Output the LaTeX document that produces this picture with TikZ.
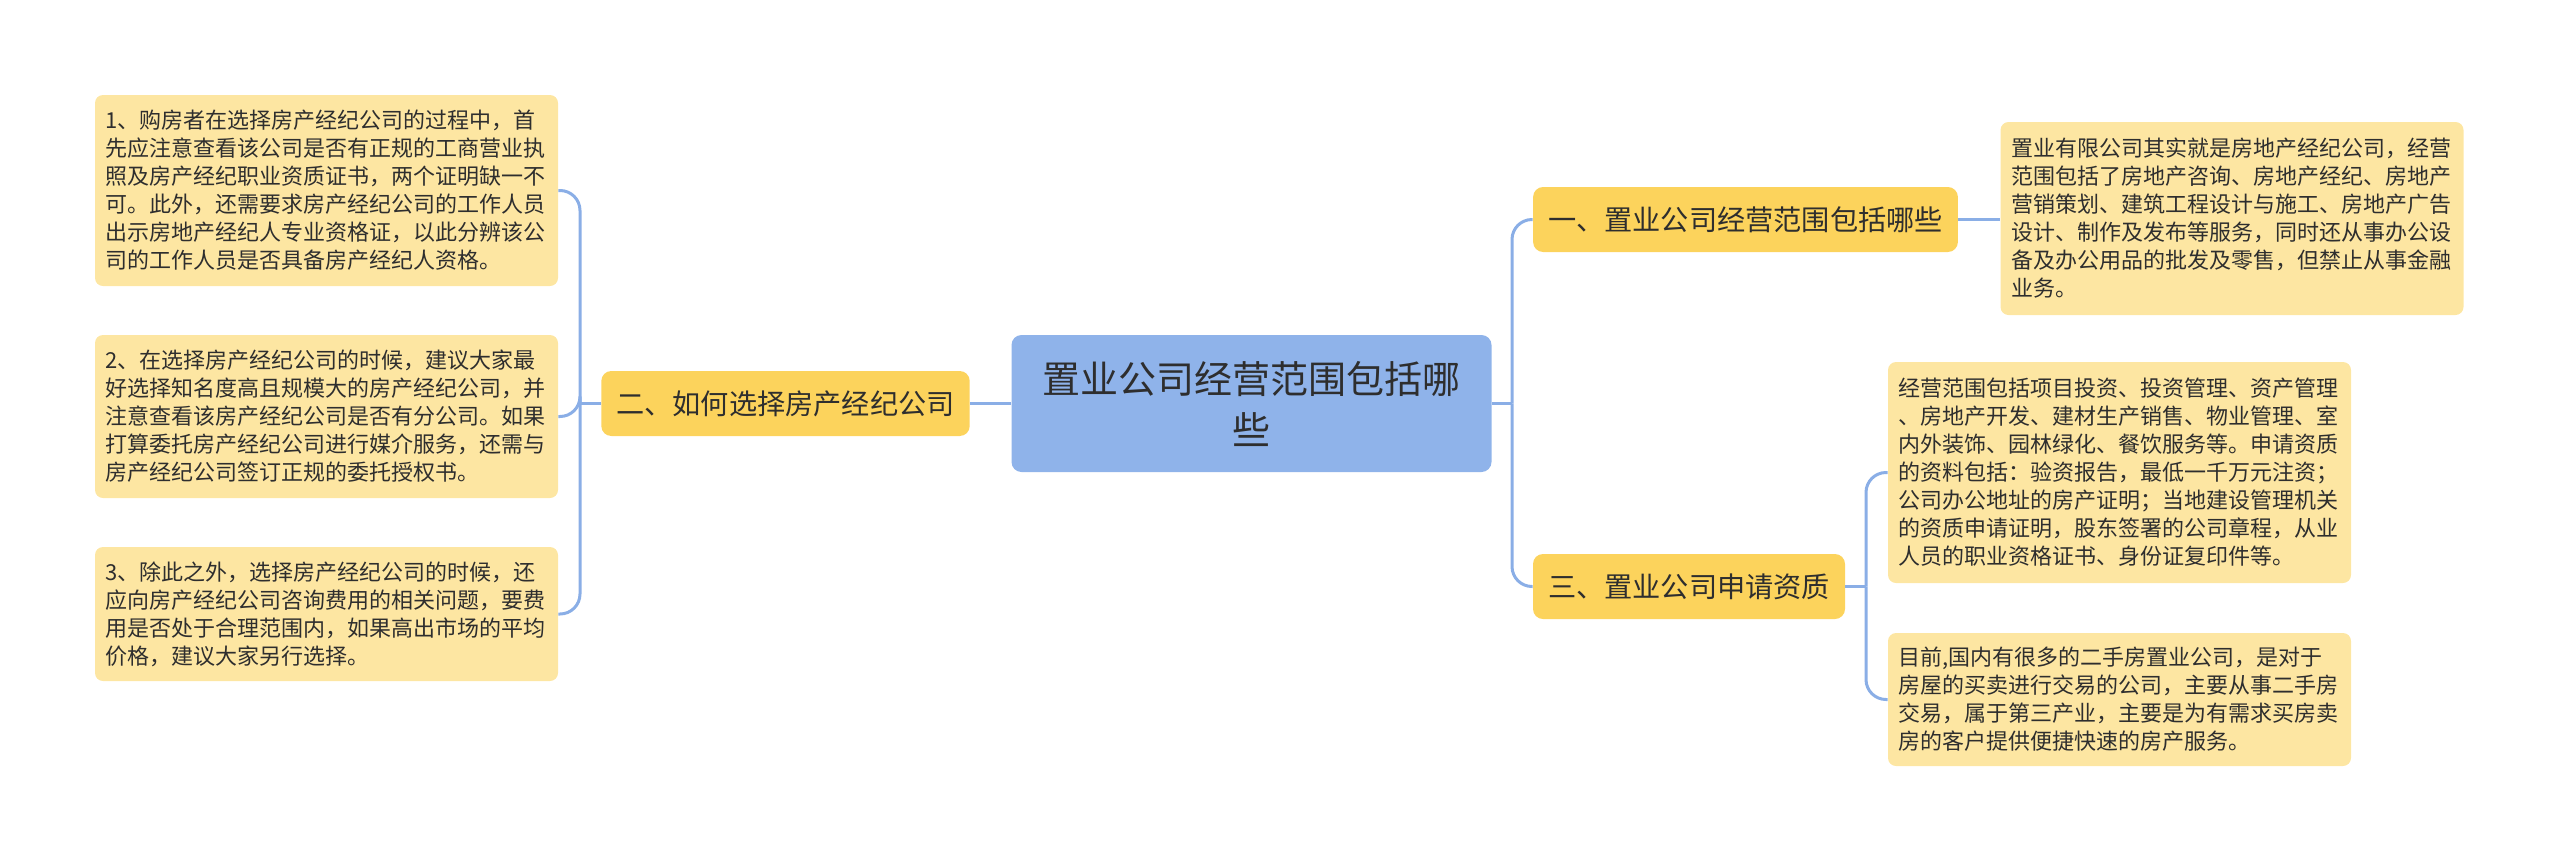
\documentclass[tikz,border=0pt]{standalone}
\usepackage{fontspec}
\setmainfont{Noto Sans CJK SC}
\definecolor{linkblue}{HTML}{8AAEE6}
\definecolor{rootblue}{HTML}{8FB3EA}
\definecolor{topicyellow}{HTML}{FCD35C}
\definecolor{leafyellow}{HTML}{FDE6A2}
\definecolor{textgray}{HTML}{2E2E2E}
\begin{document}
\begin{tikzpicture}[x=0.5pt,y=-0.5pt,
        rootbox/.style={fill=rootblue,rounded corners=5pt,align=center,text=textgray,
            minimum width=240pt,minimum height=68.5pt,font=\fontsize{19}{25.5}\selectfont},
        topic/.style={fill=topicyellow,rounded corners=5pt,text=textgray,inner xsep=7.5pt,
            minimum height=32.5pt,font=\fontsize{14.1}{17}\selectfont},
        leaf/.style={fill=leafyellow,rounded corners=4pt,align=left,text=textgray,
            text width=221pt,inner xsep=5.25pt,font=\fontsize{11}{14}\selectfont},
        link/.style={draw=linkblue,line width=1.5pt,rounded corners=10pt}]
            \useasboundingbox (0,0) rectangle (2560,863);
            \node[rootbox] (root) at (1251.5,403.5) {置业公司经营范围包括哪\\些};
            \node[topic] (t1) at (1745.5,219.5) {一、置业公司经营范围包括哪些};
            \node[topic] (t2) at (785.5,403.5) {二、如何选择房产经纪公司};
            \node[topic] (t3) at (1689,586.5) {三、置业公司申请资质};
            % left side
            \node[leaf,minimum height=95.5pt] (l1) at (326.5,190.5) {1、购房者在选择房产经纪公司的过程中，首\\先应注意查看该公司是否有正规的工商营业执\\照及房产经纪职业资质证书，两个证明缺一不\\可。此外，还需要求房产经纪公司的工作人员\\出示房地产经纪人专业资格证，以此分辨该公\\司的工作人员是否具备房产经纪人资格。};
            \node[leaf,minimum height=81.5pt] (l2) at (326.5,416.5) {2、在选择房产经纪公司的时候，建议大家最\\好选择知名度高且规模大的房产经纪公司，并\\注意查看该房产经纪公司是否有分公司。如果\\打算委托房产经纪公司进行媒介服务，还需与\\房产经纪公司签订正规的委托授权书。};
            \node[leaf,minimum height=67pt] (l3) at (326.5,614) {3、除此之外，选择房产经纪公司的时候，还\\应向房产经纪公司咨询费用的相关问题，要费\\用是否处于合理范围内，如果高出市场的平均\\价格，建议大家另行选择。};
            % right side
            \node[leaf,minimum height=96.5pt] (r1) at (2232,218.5) {置业有限公司其实就是房地产经纪公司，经营\\范围包括了房地产咨询、房地产经纪、房地产\\营销策划、建筑工程设计与施工、房地产广告\\设计、制作及发布等服务，同时还从事办公设\\备及办公用品的批发及零售，但禁止从事金融\\业务。};
            \node[leaf,minimum height=110.5pt] (r2) at (2119.5,472.5) {经营范围包括项目投资、投资管理、资产管理\\、房地产开发、建材生产销售、物业管理、室\\内外装饰、园林绿化、餐饮服务等。申请资质\\的资料包括：验资报告，最低一千万元注资；\\公司办公地址的房产证明；当地建设管理机关\\的资质申请证明，股东签署的公司章程，从业\\人员的职业资格证书、身份证复印件等。};
            \node[leaf,minimum height=66.5pt] (r3) at (2119.5,699.5) {目前,国内有很多的二手房置业公司，是对于\\房屋的买卖进行交易的公司，主要从事二手房\\交易，属于第三产业，主要是为有需求买房卖\\房的客户提供便捷快速的房产服务。};
            \coordinate (jl) at (580,403.5);
            \coordinate (jr) at (1512,403.5);
            \coordinate (j3) at (1866,586.5);
            \draw[link] (t2.west) -- (jl);
            \foreach \n in {l1,l2,l3}
            \draw[link] (jl) |- (\n.east);
            \draw[link] (root.west) -- (t2.east);
            \draw[link] (root.east) -- (jr);
            \foreach \n in {t1,t3}
            \draw[link] (jr) |- (\n.west);
            \draw[link] (t1.east) -- (t1.east -| r1.west);
            \draw[link] (t3.east) -- (j3);
            \foreach \n in {r2,r3}
            \draw[link] (j3) |- (\n.west);
        \end{tikzpicture}
\end{document}
